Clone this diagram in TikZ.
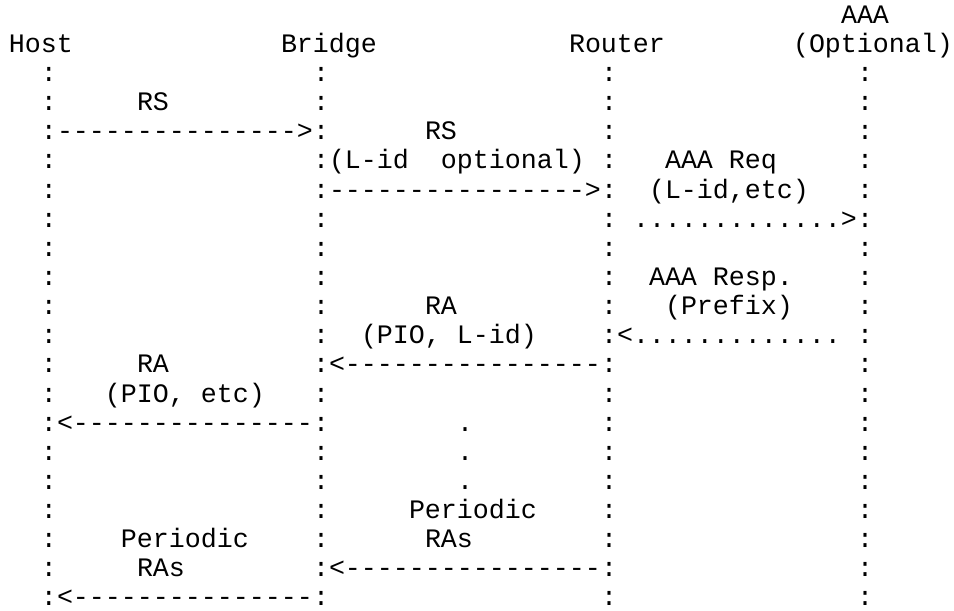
\documentclass[tikz,border=0pt]{standalone}
\usepackage{fontspec}
\setmonofont{Liberation Mono}
\begin{document}
\begin{tikzpicture}[
        x=8pt, y=-14.57pt,
        txt/.style={anchor=base west, inner sep=0pt, outer sep=0pt, font=\ttfamily\fontsize{13.33pt}{14.57pt}\selectfont}
    ]
        % Page
        \fill[white, use as bounding box] (-0.5625,0.204) rectangle (59.0625,21.17);

        % Heads
        \node[txt] (aaa) at (52,1) {AAA};
        \node[txt] (host) at (0,2) {Host};
        \node[txt] (bridge) at (17,2) {Bridge};
        \node[txt] (router) at (35,2) {Router};
        \node[txt] (optional) at (49,2) {(Optional)};

        % Lifelines
        \foreach \r in {3,...,21} {
            \node[txt] (hostline\r) at (2,\r) {:};
            \node[txt] (bridgeline\r) at (19,\r) {:};
            \node[txt] (routerline\r) at (37,\r) {:};
            \node[txt] (aaaline\r) at (53,\r) {:};
        }

        % Router Solicitation
        \node[txt] (rslabel) at (8,4) {RS};
        \node[txt] (rsarrow) at (3,5) {--------------->};
        \node[txt] (rsfwdlabel) at (26,5) {RS};
        \node[txt] (rsfwdnote) at (20,6) {(L-id\ \ optional)};
        \node[txt] (rsfwdarrow) at (20,7) {---------------->};

        % AAA exchange
        \node[txt] (reqlabel) at (41,6) {AAA Req};
        \node[txt] (reqnote) at (40,7) {(L-id,etc)};
        \node[txt] (reqarrow) at (39,8) {.............>};
        \node[txt] (resplabel) at (40,10) {AAA Resp.};
        \node[txt] (respnote) at (41,11) {(Prefix)};
        \node[txt] (resparrow) at (38,12) {<.............};

        % Router Advertisement
        \node[txt] (ralabel) at (26,11) {RA};
        \node[txt] (ranote) at (22,12) {(PIO, L-id)};
        \node[txt] (raarrow) at (20,13) {<----------------};
        \node[txt] (rafwdlabel) at (8,13) {RA};
        \node[txt] (rafwdnote) at (6,14) {(PIO, etc)};
        \node[txt] (rafwdarrow) at (3,15) {<---------------};

        % Periodic RAs
        \node[txt] (dot1) at (28,15) {.};
        \node[txt] (dot2) at (28,16) {.};
        \node[txt] (dot3) at (28,17) {.};
        \node[txt] (perlabel) at (25,18) {Periodic};
        \node[txt] (pernote) at (26,19) {RAs};
        \node[txt] (perarrow) at (20,20) {<----------------};
        \node[txt] (perfwdlabel) at (7,19) {Periodic};
        \node[txt] (perfwdnote) at (8,20) {RAs};
        \node[txt] (perfwdarrow) at (3,21) {<---------------};

    \end{tikzpicture}
\end{document}
